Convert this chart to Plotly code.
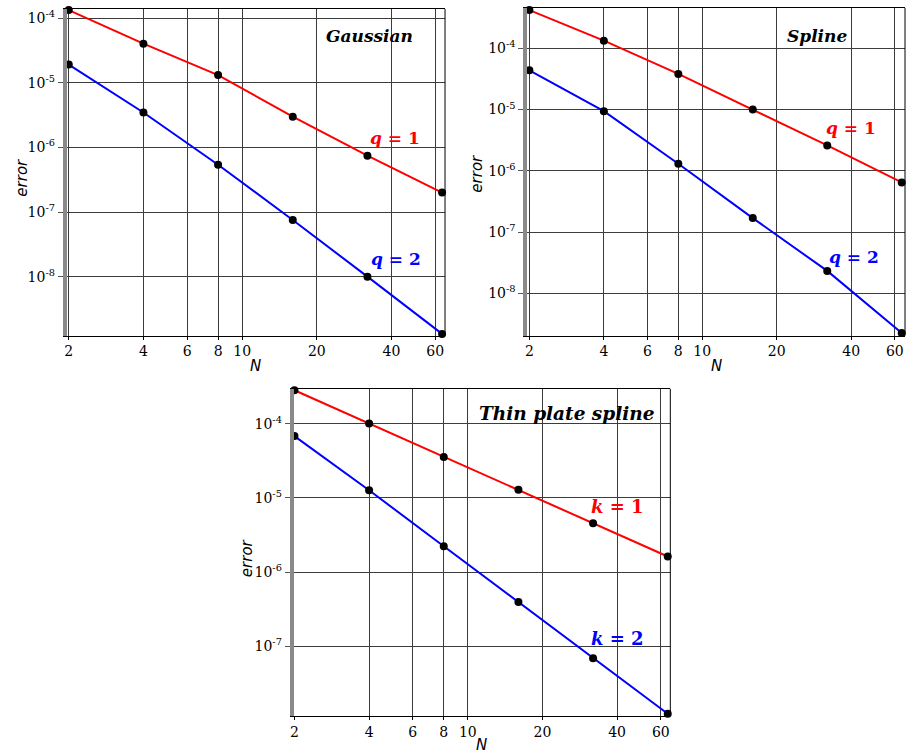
import plotly.graph_objects as go

# Convergence data: error versus N for three kernels
N = [2, 4, 8, 16, 32, 64]

gauss_q1 = [1.34e-4, 4.05e-5, 1.32e-5, 3.0e-6, 7.45e-7, 2.0e-7]
gauss_q2 = [1.92e-5, 3.48e-6, 5.4e-7, 7.55e-8, 1.0e-8, 1.3e-9]

spline_q1 = [4.2e-4, 1.33e-4, 3.81e-5, 1.0e-5, 2.59e-6, 6.45e-7]
spline_q2 = [4.37e-5, 9.4e-6, 1.3e-6, 1.69e-7, 2.32e-8, 2.24e-9]

tps_k1 = [2.83e-4, 1.01e-4, 3.56e-5, 1.29e-5, 4.56e-6, 1.63e-6]
tps_k2 = [6.82e-5, 1.27e-5, 2.24e-6, 3.98e-7, 6.96e-8, 1.24e-8]

x_ticks = [2, 4, 6, 8, 10, 20, 40, 60]
x_ticklabels = ["2", "4", "6", "8", "10", "20", "40", "60"]

gauss_yticks = [1e-4, 1e-5, 1e-6, 1e-7, 1e-8]
gauss_ylabels = ["10<sup>-4</sup>", "10<sup>-5</sup>", "10<sup>-6</sup>",
                 "10<sup>-7</sup>", "10<sup>-8</sup>"]
spline_yticks = [1e-4, 1e-5, 1e-6, 1e-7, 1e-8]
spline_ylabels = gauss_ylabels
tps_yticks = [1e-4, 1e-5, 1e-6, 1e-7]
tps_ylabels = ["10<sup>-4</sup>", "10<sup>-5</sup>", "10<sup>-6</sup>",
               "10<sup>-7</sup>"]

RED = "#ff0000"
BLUE = "#0000ff"
GRID = "#3c3c3c"
SERIF = "DejaVu Serif"
SANS = "DejaVu Sans"

panels = [
    # (x-axis id, y-axis id, series, x domain, y domain, x range, y range, yticks, ylabels)
    ("x", "y", (gauss_q1, gauss_q2), [0.0695, 0.4884], [0.5551, 0.9894],
     [0.293, 1.818], [-8.912, -3.856], gauss_yticks, gauss_ylabels),
    ("x2", "y2", (spline_q1, spline_q2), [0.5796, 0.9978], [0.5551, 0.9907],
     [0.293, 1.8195], [-8.69, -3.343], spline_yticks, spline_ylabels),
    ("x3", "y3", (tps_k1, tps_k2), [0.3208, 0.7379], [0.0491, 0.4843],
     [0.298, 1.8166], [-7.938, -3.529], tps_yticks, tps_ylabels),
]

fig = go.Figure()
layout = {}
shapes = []

for xa, ya, series, xdom, ydom, xr, yr, yt, yl in panels:
    for vals, col in zip(series, (RED, BLUE)):
        fig.add_trace(go.Scatter(
            x=N, y=vals, xaxis=xa, yaxis=ya, mode="lines+markers",
            line=dict(color=col, width=2),
            marker=dict(color="black", size=8),
            showlegend=False, cliponaxis=False,
        ))
    xkey = "xaxis" + xa[1:]
    ykey = "yaxis" + ya[1:]
    layout[xkey] = dict(
        type="log", domain=xdom, range=xr, anchor=ya,
        tickvals=x_ticks, ticktext=x_ticklabels,
        showgrid=True, gridcolor=GRID, gridwidth=1,
        showline=True, linecolor="black", linewidth=1, mirror=True,
        ticks="outside", ticklen=3, tickcolor="black",
        tickfont=dict(family=SERIF, size=14, color="black"),
        zeroline=False,
    )
    layout[ykey] = dict(
        type="log", domain=ydom, range=yr, anchor=xa,
        tickvals=yt, ticktext=yl,
        showgrid=True, gridcolor=GRID, gridwidth=1,
        showline=True, linecolor="#8a8a8a", linewidth=4,
        ticks="outside", ticklen=5, tickcolor="#555555",
        tickfont=dict(family=SERIF, size=14, color="black"),
        zeroline=False,
    )
    # thin right-hand frame edge
    shapes.append(dict(
        type="line", xref=xa + " domain", yref=ya + " domain",
        x0=1, x1=1, y0=0, y1=1, line=dict(color="black", width=1),
    ))

def ann(text, x, y, color="black", size=17, family=SERIF, angle=0):
    return dict(text=text, x=x / 907, y=1 - y / 753, xref="paper", yref="paper",
                showarrow=False, textangle=angle,
                font=dict(family=family, size=size, color=color),
                xanchor="center", yanchor="middle")

annotations = [
    ann("<b><i>Gaussian</i></b>", 367, 35, size=17),
    ann("<b><i>q</i> = 1</b>", 393, 137, RED),
    ann("<b><i>q</i> = 2</b>", 394, 258, BLUE),
    ann("<b><i>Spline</i></b>", 817, 35, size=17),
    ann("<b><i>q</i> = 1</b>", 851, 127, RED),
    ann("<b><i>q</i> = 2</b>", 854, 256, BLUE),
    ann("<b><i>Thin plate spline</i></b>", 565, 413, size=18.5),
    ann("<b><i>k</i> = 1</b>", 616, 506, RED, size=18),
    ann("<b><i>k</i> = 2</b>", 616, 638, BLUE, size=18),
    ann("<i>error</i>", 18, 177, size=15, family=SANS, angle=-90),
    ann("<i>error</i>", 475, 173, size=15, family=SANS, angle=-90),
    ann("<i>error</i>", 244, 558, size=15, family=SANS, angle=-90),
    ann("<i>N</i>", 253, 365, size=15, family=SANS),
    ann("<i>N</i>", 716, 365, size=15, family=SANS),
    ann("<i>N</i>", 480, 745, size=15, family=SANS),
]

fig.update_layout(
    width=907, height=753,
    margin=dict(l=0, r=0, t=0, b=0),
    paper_bgcolor="white", plot_bgcolor="white",
    font=dict(family=SERIF),
    shapes=shapes, annotations=annotations,
    **layout,
)

fig.write_html("out.html")
